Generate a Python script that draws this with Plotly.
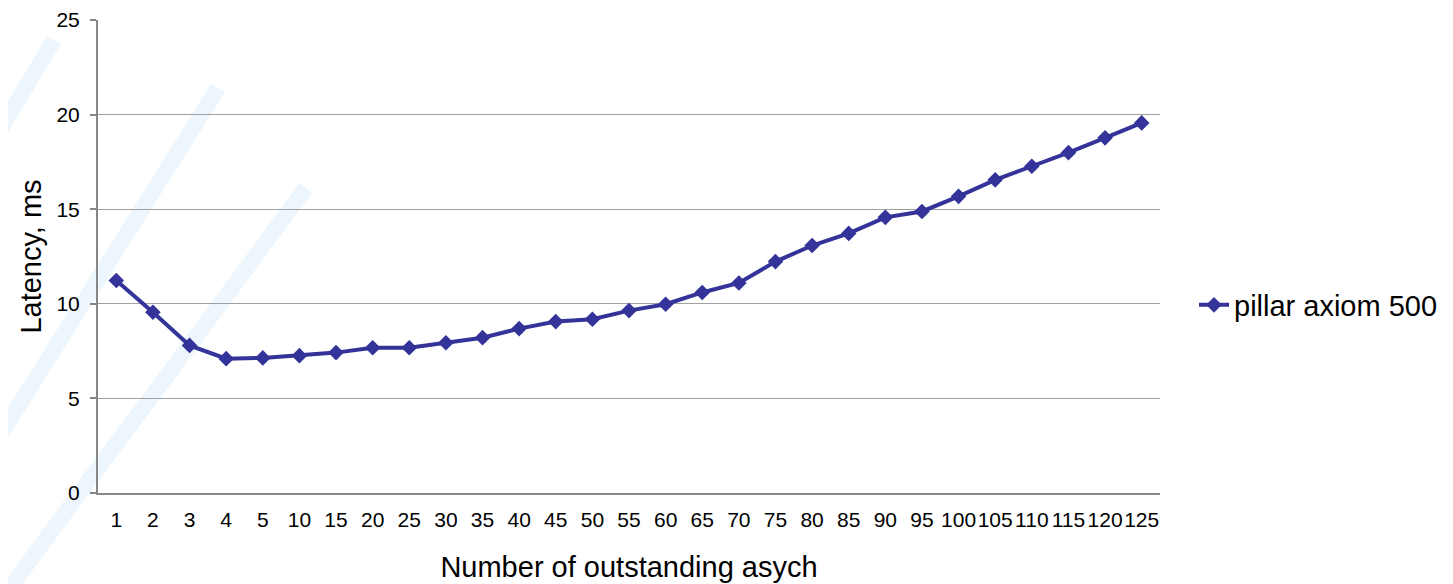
import plotly.graph_objects as go

categories = ["1", "2", "3", "4", "5", "10", "15", "20", "25", "30", "35", "40", "45",
              "50", "55", "60", "65", "70", "75", "80", "85", "90", "95", "100", "105",
              "110", "115", "120", "125"]
latency_ms = [11.23, 9.55, 7.8, 7.1, 7.14, 7.26, 7.42, 7.68, 7.68, 7.94, 8.21, 8.69, 9.06,
              9.18, 9.64, 9.98, 10.6, 11.1, 12.23, 13.08, 13.72, 14.57, 14.88, 15.68, 16.55,
              17.27, 17.99, 18.77, 19.56]
series_name = "pillar axiom 500"
y_ticks = [0, 5, 10, 15, 20, 25]

# page has an 8px body margin; figure coords = screen coords - 8
OFF = 8
W, H = 1453 - OFF, 584 - OFF
L, R, T, B = 98 - OFF, 293, 20 - OFF, 91
pw, ph = W - L - R, H - T - B

def px(x):  # screen x -> paper
    return (x - OFF - L) / pw

def py(y):  # screen y -> paper
    return (H - B - (y - OFF)) / ph

fig = go.Figure()
fig.add_trace(go.Scatter(
    x=categories, y=latency_ms, name=series_name, mode="lines+markers",
    line=dict(color="#333399", width=4),
    marker=dict(symbol="diamond", size=12, color="#333399"),
))

# faint watermark stripes in the background
stripes = [((54, 40), (-6, 140)), ((218, 88), (-6, 445)), ((306, 188), (8, 590))]
shapes = []
for (x0, y0), (x1, y1) in stripes:
    shapes.append(dict(type="line", xref="paper", yref="paper", layer="below",
                       x0=px(x0), y0=py(y0), x1=px(x1), y1=py(y1),
                       line=dict(color="rgba(200,230,247,0.35)", width=16)))

fig.update_layout(
    width=W, height=H,
    margin=dict(l=L, r=R, t=T, b=B, autoexpand=False),
    paper_bgcolor="white", plot_bgcolor="rgba(0,0,0,0)",
    font=dict(family="Arial, Liberation Sans, sans-serif", color="black"),
    shapes=shapes,
    showlegend=True,
    legend=dict(x=px(1194), y=py(305), xanchor="left", yanchor="middle",
                font=dict(size=29, color="black"), bgcolor="rgba(0,0,0,0)",
                borderwidth=0),
    xaxis=dict(
        type="category", range=[-0.5, len(categories) - 0.5],
        showline=True, linecolor="#868686", linewidth=2,
        showgrid=False, ticks="", tickfont=dict(size=21), tickangle=0,
        ticklabelstandoff=7, automargin=False,
        title=dict(text="Number of outstanding asych", font=dict(size=29), standoff=26),
        fixedrange=True,
    ),
    yaxis=dict(
        range=[0, 25], tickvals=y_ticks,
        showline=True, linecolor="#868686", linewidth=2,
        showgrid=True, gridcolor="#a0a0a0", gridwidth=1.2,
        zeroline=False, automargin=False,
        ticks="outside", ticklen=6, tickcolor="#868686", tickwidth=1.5,
        tickfont=dict(size=21), ticklabelstandoff=6,
        title=dict(text="Latency, ms", font=dict(size=29), standoff=6),
        fixedrange=True,
    ),
)

fig.write_html("out.html")
